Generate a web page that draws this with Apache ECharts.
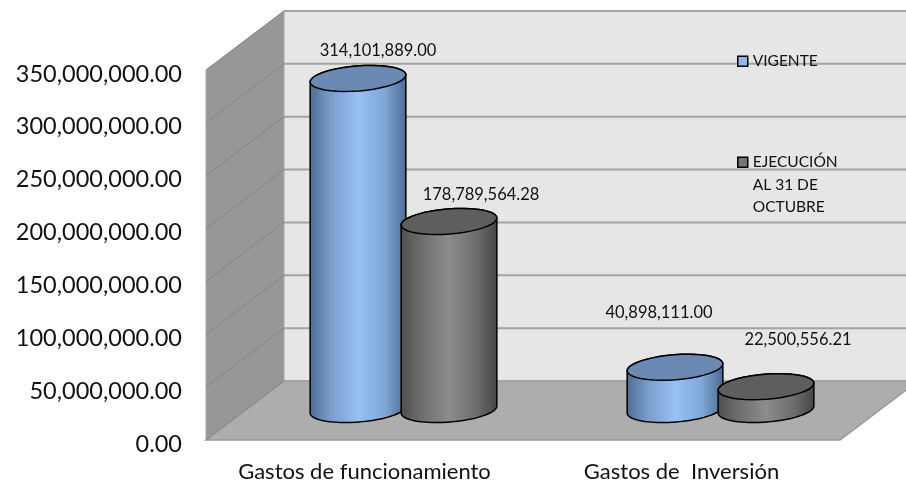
<!DOCTYPE html>
<html>
<head>
<meta charset="utf-8">
<style>
html, body { margin: 0; padding: 0; background: #fff; }
#chart { width: 906px; height: 480px; }
</style>
<script src="https://cdn.jsdelivr.net/npm/echarts@6/dist/echarts.min.js"></script>
</head>
<body>
<div id="chart"></div>
<script>
var categories = ['Gastos de funcionamiento', 'Gastos de  Inversión'];
var seriesNames = ['VIGENTE', 'EJECUCIÓN AL 31 DE OCTUBRE'];
var vigente = [314101889.00, 40898111.00];
var ejecucion = [178789564.28, 22500556.21];
var yTicks = [0, 50000000, 100000000, 150000000, 200000000, 250000000, 300000000, 350000000];
var fontName = 'Lato';

// fake 3d: depth of the box, in px
var depthX = 78;
var depthY = 59;
var cylWidth = 96;
var cylMinor = 12.5;
var cylTilt = -4.5 * Math.PI / 180;
var cylStep = 91;

var fills = [
    { top: '#6a8ab4', side: ['#4e6c92', '#7a9dcb', '#98c1f5', '#7fa6d7', '#4b6a90'], line: '#000' },
    { top: '#5e5e5e', side: ['#4e4e4e', '#6e6e6e', '#8c8c8c', '#6e6e6e', '#444444'], line: '#000' }
];

// where the value text sits, relative to the cylinder top
var labelShift = [
    [[20, -28], [-16, -55]],
    [[32, -27], [32, -47]]
];

function money(v) {
    return v.toLocaleString('en-US', { minimumFractionDigits: 2, maximumFractionDigits: 2 });
}

function ellipsePts(cx, cy, from, to) {
    var pts = [];
    for (var i = 0; i <= 40; i++) {
        var u = from + (to - from) * i / 40;
        pts.push([
            cx + cylWidth / 2 * Math.cos(u) * Math.cos(cylTilt) - cylMinor * Math.sin(u) * Math.sin(cylTilt),
            cy + cylWidth / 2 * Math.cos(u) * Math.sin(cylTilt) + cylMinor * Math.sin(u) * Math.cos(cylTilt)
        ]);
    }
    return pts;
}

function renderBox(params, api) {
    var x0 = api.coord([0, 0])[0] - api.size([1, 0])[0] / 2;
    var x1 = x0 + api.size([1, 0])[0] * categories.length;
    var y0 = api.coord([0, 0])[1];
    var yTop = api.coord([0, yTicks[yTicks.length - 1]])[1];
    var children = [
        { type: 'polygon', shape: { points: [[x0 + depthX, yTop - depthY], [x1 + depthX, yTop - depthY], [x1 + depthX, y0 - depthY], [x0 + depthX, y0 - depthY]] },
          style: { fill: '#e6e6e6' } },
        { type: 'polygon', shape: { points: [[x0, yTop], [x0 + depthX, yTop - depthY], [x0 + depthX, y0 - depthY], [x0, y0]] },
          style: { fill: '#979797', stroke: '#a6a6a6', lineWidth: 1 } },
        { type: 'polygon', shape: { points: [[x0, y0], [x0 + depthX, y0 - depthY], [x1 + depthX, y0 - depthY], [x1, y0]] },
          style: { fill: '#adadad', stroke: '#989898', lineWidth: 1.5 } }
    ];
    yTicks.forEach(function (t) {
        var y = api.coord([0, t])[1];
        children.push({ type: 'line', shape: { x1: x0 + depthX, y1: y - depthY, x2: x1 + depthX, y2: y - depthY },
            style: { stroke: '#a3a3a3', lineWidth: 2 } });
        children.push({ type: 'line', shape: { x1: x0, y1: y, x2: x0 + depthX, y2: y - depthY },
            style: { stroke: '#858585', lineWidth: 1 } });
    });
    return { type: 'group', children: children };
}

function renderCylinder(sIdx) {
    return function (params, api) {
        var cat = api.value(0);
        var val = api.value(1);
        var cx = api.coord([cat, 0])[0] + depthX / 2 + (sIdx - 0.5) * cylStep;
        var yBase = api.coord([cat, 0])[1] - depthY / 2 - 1;
        var yVal = api.coord([cat, val])[1] - depthY / 2;
        var f = fills[sIdx];
        var side = ellipsePts(cx, yBase, 0, Math.PI).concat(ellipsePts(cx, yVal, Math.PI, 2 * Math.PI));
        var shift = labelShift[sIdx][cat];
        return {
            type: 'group',
            children: [
                { type: 'polygon', shape: { points: side },
                  style: {
                      fill: new echarts.graphic.LinearGradient(0, 0, 1, 0, [
                          { offset: 0, color: f.side[0] },
                          { offset: 0.22, color: f.side[1] },
                          { offset: 0.5, color: f.side[2] },
                          { offset: 0.78, color: f.side[3] },
                          { offset: 1, color: f.side[4] }
                      ]),
                      stroke: f.line, lineWidth: 1.5
                  } },
                { type: 'polygon', shape: { points: ellipsePts(cx, yVal, 0, 2 * Math.PI) },
                  style: { fill: f.top, stroke: f.line, lineWidth: 1.5 } },
                { type: 'text', z2: 10,
                  style: { text: money(val), x: cx + shift[0], y: yVal + shift[1], align: 'center', verticalAlign: 'middle',
                           fill: '#111', font: '16.5px ' + fontName } }
            ]
        };
    };
}

var option = {
    animation: false,
    backgroundColor: '#fff',
    grid: { left: 206, right: 66, top: 70, bottom: 40, outerBoundsMode: 'none' },
    legend: {
        orient: 'vertical',
        left: 737,
        top: 50,
        padding: 0,
        icon: 'rect',
        itemWidth: 10,
        itemHeight: 10,
        itemGap: 33.5,
        selectedMode: false,
        textStyle: { fontFamily: fontName, fontSize: 15.5, color: '#111', lineHeight: 22.5 },
        formatter: function (name) {
            // two empty lines keep the swatch level with the first text line
            return name.replace('EJECUCIÓN AL 31 DE OCTUBRE', '\n\nEJECUCIÓN\nAL 31 DE\nOCTUBRE');
        },
        itemStyle: { borderColor: '#000', borderWidth: 1.5 },
        data: seriesNames
    },
    xAxis: {
        type: 'category',
        data: categories,
        axisLine: { show: false },
        axisTick: { show: false },
        axisLabel: { fontFamily: fontName, fontSize: 22, color: '#111', margin: 21, interval: 0, hideOverlap: false }
    },
    yAxis: {
        type: 'value',
        min: 0,
        max: 350000000,
        interval: 50000000,
        splitLine: { show: false },
        axisLine: { show: false },
        axisTick: { show: false },
        // labels sit a little below their tick, as in the original
        axisLabel: { fontFamily: fontName, fontSize: 23.5, color: '#111', margin: 24, verticalAlign: 'top', lineHeight: 8, formatter: money }
    },
    series: [
        { type: 'custom', name: 'box', silent: true, z: 1, clip: false, renderItem: renderBox, data: [[0, 0]] },
        { type: 'custom', name: seriesNames[0], z: 2, clip: false, renderItem: renderCylinder(0),
          itemStyle: { color: '#8fb8ec' },
          encode: { x: 0, y: 1 }, data: vigente.map(function (v, i) { return [i, v]; }) },
        { type: 'custom', name: seriesNames[1], z: 3, clip: false, renderItem: renderCylinder(1),
          itemStyle: { color: '#767676' },
          encode: { x: 0, y: 1 }, data: ejecucion.map(function (v, i) { return [i, v]; }) }
    ]
};

var myChart = echarts.init(document.getElementById('chart'));
myChart.setOption(option);
</script>
</body>
</html>
